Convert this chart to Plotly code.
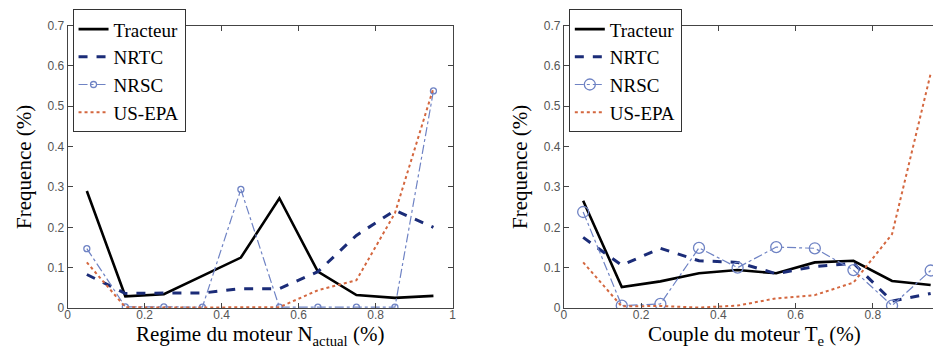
import plotly.graph_objects as go

x_centres = [0.05, 0.15, 0.25, 0.35, 0.45, 0.55, 0.65, 0.75, 0.85, 0.95]
series_names = ["Tracteur", "NRTC", "NRSC", "US-EPA"]

# Left panel: engine speed N_actual
left_tracteur = [0.29, 0.029, 0.034, 0.08, 0.125, 0.272, 0.09, 0.032, 0.025, 0.03]
left_nrtc = [0.083, 0.036, 0.037, 0.037, 0.048, 0.048, 0.09, 0.18, 0.242, 0.20]
left_nrsc = [0.147, 0.003, 0.003, 0.002, 0.294, 0.002, 0.002, 0.002, 0.002, 0.538]
left_usepa = [0.113, 0.002, 0.001, 0.001, 0.001, 0.002, 0.044, 0.069, 0.235, 0.545]

# Right panel: engine torque T_e
right_tracteur = [0.266, 0.052, 0.066, 0.086, 0.094, 0.086, 0.113, 0.117, 0.067, 0.057]
right_nrtc = [0.175, 0.106, 0.148, 0.117, 0.113, 0.085, 0.103, 0.111, 0.017, 0.036]
right_nrsc = [0.238, 0.006, 0.010, 0.149, 0.100, 0.151, 0.148, 0.094, 0.006, 0.093]
right_usepa = [0.113, 0.004, 0.005, 0.001, 0.006, 0.024, 0.032, 0.063, 0.183, 0.581]

x_ticks = [0, 0.2, 0.4, 0.6, 0.8, 1]
y_ticks = [0, 0.1, 0.2, 0.3, 0.4, 0.5, 0.6, 0.7]
x_titles = ["Regime du moteur N<sub>actual</sub> (%)", "Couple du moteur T<sub>e</sub> (%)"]
y_title = "Frequence (%)"

W, H = 941, 356
serif = "Liberation Serif"
sans = "Liberation Sans"

C_TR = "black"
C_NRTC = "#1b2c78"
C_NRSC = "#6f83c4"
C_EPA = "#d4673f"

fig = go.Figure()

def add_panel(xa, ya, legend, tr, nrtc, nrsc, epa, msize):
    fig.add_trace(go.Scatter(x=x_centres, y=tr, name="Tracteur", mode="lines",
                             line=dict(color=C_TR, width=2.6), xaxis=xa, yaxis=ya, legend=legend))
    fig.add_trace(go.Scatter(x=x_centres, y=nrtc, name="NRTC", mode="lines",
                             line=dict(color=C_NRTC, width=3, dash="dash"), xaxis=xa, yaxis=ya, legend=legend))
    fig.add_trace(go.Scatter(x=x_centres, y=nrsc, name="NRSC", mode="lines+markers",
                             line=dict(color=C_NRSC, width=1.2, dash="dashdot"),
                             marker=dict(symbol="circle-open", size=msize, color=C_NRSC, line=dict(width=1.3)),
                             xaxis=xa, yaxis=ya, legend=legend))
    fig.add_trace(go.Scatter(x=x_centres, y=epa, name="US-EPA", mode="lines",
                             line=dict(color=C_EPA, width=2, dash="dot"), xaxis=xa, yaxis=ya, legend=legend))

add_panel("x", "y", "legend", left_tracteur, left_nrtc, left_nrsc, left_usepa, 6)
add_panel("x2", "y2", "legend2", right_tracteur, right_nrtc, right_nrsc, right_usepa, 11)

y_dom = [51 / H, (H - 11) / H]
tickfont = dict(family=sans, size=12, color="#555555")
title_font = dict(family=serif, size=21, color="black")

common_x = dict(tickvals=x_ticks, ticktext=[f"{v:g}" for v in x_ticks], ticks="inside", ticklen=5,
                tickcolor="#444444", showline=True, linecolor="#444444", linewidth=1,
                showgrid=False, zeroline=False, tickfont=tickfont, ticklabelstandoff=-4)
common_y = dict(tickvals=y_ticks, ticktext=[f"{v:g}" for v in y_ticks], ticks="inside", ticklen=5,
                tickcolor="#444444", showline=True, linecolor="#444444", linewidth=1,
                showgrid=False, zeroline=False, tickfont=tickfont, range=[0, 0.7],
                title=dict(text=y_title, font=title_font, standoff=10))

legfont = dict(family=serif, size=19, color="black")
leg_y = 1 + 6 / H

fig.update_layout(
    width=W, height=H, margin=dict(l=0, r=0, t=0, b=0),
    font=dict(family=serif, size=21, color="black"),
    paper_bgcolor="white", plot_bgcolor="white",
    xaxis=dict(domain=[57 / W, 445 / W], range=[0, 1], mirror="ticks", anchor="y",
               title=dict(text=x_titles[0], font=title_font, standoff=0), **common_x),
    yaxis=dict(domain=y_dom, anchor="x", mirror="ticks", **common_y),
    xaxis2=dict(domain=[557 / W, 1], range=[0, (W - 557) / 389], mirror="ticks", anchor="y2",
                title=dict(text=x_titles[1], font=title_font, standoff=0), **common_x),
    yaxis2=dict(domain=y_dom, anchor="x2", mirror=False, **common_y),
    legend=dict(x=62 / W, y=leg_y, xanchor="left", yanchor="top", bgcolor="white",
                bordercolor="#333333", borderwidth=1, font=legfont,
                tracegroupgap=0, itemwidth=30),
    legend2=dict(x=562 / W, y=leg_y, xanchor="left", yanchor="top", bgcolor="white",
                 bordercolor="#333333", borderwidth=1, font=legfont,
                 tracegroupgap=0, itemwidth=30),
    showlegend=True,
)

fig.write_html("out.html")
